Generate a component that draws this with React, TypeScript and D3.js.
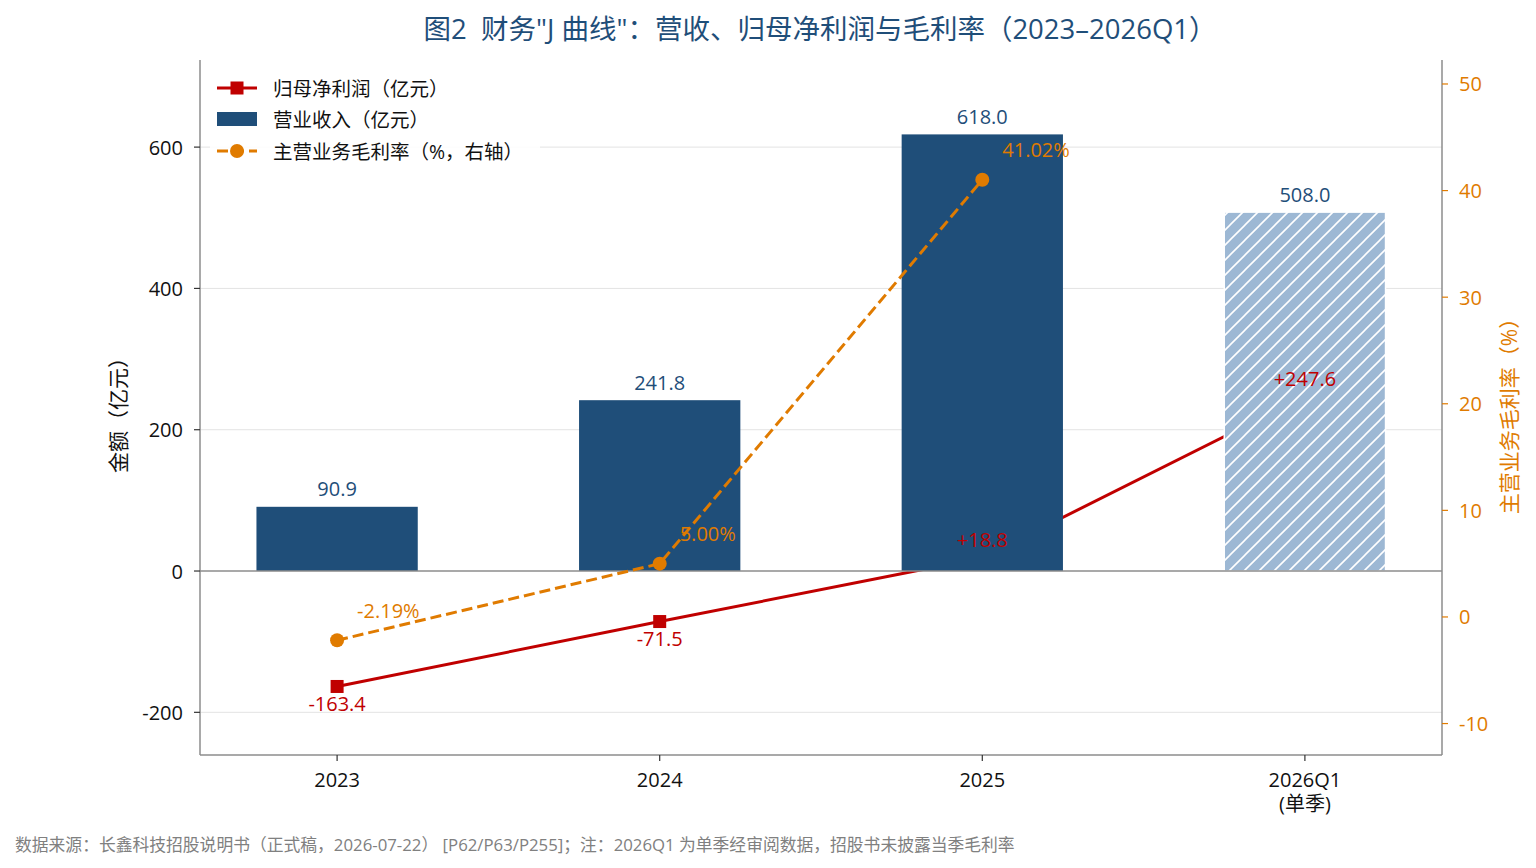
// Dependencies
import React from "react";
import * as d3 from "d3";

// Data
const periods = ["2023", "2024", "2025", "2026Q1"];
const periodLabels = [["2023"], ["2024"], ["2025"], ["2026Q1", "(单季)"]];
const revenue = [90.9, 241.8, 618.0, 508.0];
const netProfit = [-163.4, -71.5, 18.8, 247.6];
const grossMargin = [-2.19, 5.0, 41.02]; // 2026Q1 not disclosed
const leftTicks = [-200, 0, 200, 400, 600];
const rightTicks = [-10, 0, 10, 20, 30, 40, 50];

const FONT = "'Open Sans', 'Noto Sans CJK SC', sans-serif";
const BLUE = "#1f4e79";
const LIGHT_BLUE = "#9db8d4";
const RED = "#c00000";
const ORANGE = "#e07b00";

const App: React.FC = () => {
  const width = 1536;
  const height = 868;
  const margin = { top: 60, right: 94, bottom: 113, left: 200 };
  const x0 = margin.left;
  const x1 = width - margin.right;
  const y0 = height - margin.bottom;
  const y1 = margin.top;

  // Scales
  const xScale = d3.scaleLinear().domain([-0.425, 3.425]).range([x0, x1]);
  const yLeft = d3.scaleLinear().domain([-260.4, 723.3]).range([y0, y1]);
  const yRight = d3.scaleLinear().domain([-12.95, 52.25]).range([y0, y1]);
  const barW = xScale(0.5) - xScale(0);

  const profitLine = d3
    .line<number>()
    .x((_, i) => xScale(i))
    .y((d) => yLeft(d));
  const marginLine = d3
    .line<number>()
    .x((_, i) => xScale(i))
    .y((d) => yRight(d));

  const fmtSigned = (v: number) => (v > 0 ? "+" : "") + v.toFixed(1);

  return (
    <svg
      width={width}
      height={height}
      style={{ position: "absolute", left: 0, top: 0, background: "#fff" }}
      fontFamily={FONT}
    >
      <defs>
        <pattern
          id="hatch"
          patternUnits="userSpaceOnUse"
          width={15}
          height={15}
        >
          <rect width={15} height={15} fill={LIGHT_BLUE} />
          <path
            d="M-3.75,3.75 l7.5,-7.5 M0,15 l15,-15 M11.25,18.75 l7.5,-7.5"
            stroke="#fff"
            strokeWidth={1.6}
          />
        </pattern>
        <clipPath id="plot">
          <rect x={x0} y={y1} width={x1 - x0} height={y0 - y1} />
        </clipPath>
      </defs>

      {/* Title */}
      <text
        x={820}
        y={28}
        textAnchor="middle"
        dominantBaseline="central"
        fontSize={27.5}
        fill={BLUE}
        style={{ whiteSpace: "pre" }}
      >
        {'图2  财务"J 曲线"：营收、归母净利润与毛利率（2023–2026Q1）'}
      </text>

      {/* Gridlines */}
      <g>
        {leftTicks
          .filter((t) => t !== 0)
          .map((t) => (
            <line
              key={t}
              x1={x0}
              x2={x1}
              y1={yLeft(t)}
              y2={yLeft(t)}
              stroke="#e3e3e3"
              strokeWidth={1}
            />
          ))}
      </g>

      <g clipPath="url(#plot)">
        {/* Net profit line (under bars) */}
        <path
          d={profitLine(netProfit) || ""}
          fill="none"
          stroke={RED}
          strokeWidth={3}
        />
        {netProfit.map((v, i) => (
          <rect
            key={i}
            x={xScale(i) - 6.5}
            y={yLeft(v) - 6.5}
            width={13}
            height={13}
            fill={RED}
          />
        ))}

        {/* Revenue bars */}
        {revenue.map((v, i) => (
          <rect
            key={periods[i]}
            x={xScale(i) - barW / 2}
            y={yLeft(v)}
            width={barW}
            height={yLeft(0) - yLeft(v)}
            fill={i === 3 ? "url(#hatch)" : BLUE}
            stroke={i === 3 ? "#fff" : "none"}
            strokeWidth={1.5}
          />
        ))}

        {/* Zero line */}
        <line
          x1={x0}
          x2={x1}
          y1={yLeft(0)}
          y2={yLeft(0)}
          stroke="#8c8c8c"
          strokeWidth={1.5}
        />

        {/* Gross margin line */}
        <path
          d={marginLine(grossMargin) || ""}
          fill="none"
          stroke={ORANGE}
          strokeWidth={3}
          strokeDasharray="11,5"
        />
        {grossMargin.map((v, i) => (
          <circle key={i} cx={xScale(i)} cy={yRight(v)} r={7} fill={ORANGE} />
        ))}
      </g>

      {/* Labels */}
      <g fontSize={20}>
        {revenue.map((v, i) => (
          <text
            key={i}
            x={xScale(i)}
            y={yLeft(v) - 18}
            textAnchor="middle"
            dominantBaseline="central"
            fill={BLUE}
          >
            {v.toFixed(1)}
          </text>
        ))}
        {netProfit.map((v, i) => (
          <text
            key={i}
            x={xScale(i)}
            y={yLeft(v) + (v < 0 ? 17 : -18)}
            textAnchor="middle"
            dominantBaseline="central"
            fill={RED}
          >
            {fmtSigned(v)}
          </text>
        ))}
        {grossMargin.map((v, i) => (
          <text
            key={i}
            x={xScale(i) + 20}
            y={yRight(v) - 30}
            dominantBaseline="central"
            fill={ORANGE}
          >
            {v.toFixed(2) + "%"}
          </text>
        ))}
      </g>

      {/* Spines */}
      <line x1={x0} x2={x0} y1={y1} y2={y0} stroke="#8c8c8c" strokeWidth={1.5} />
      <line x1={x1} x2={x1} y1={y1} y2={y0} stroke="#8c8c8c" strokeWidth={1.5} />
      <line x1={x0} x2={x1} y1={y0} y2={y0} stroke="#8c8c8c" strokeWidth={1.5} />

      {/* Left axis */}
      <g fontSize={20}>
        {leftTicks.map((t) => (
          <g key={t} transform={`translate(${x0},${yLeft(t)})`}>
            <line x1={-6} x2={0} stroke="#333" strokeWidth={1.2} />
            <text
              x={-17}
              textAnchor="end"
              dominantBaseline="central"
              fill="#111"
            >
              {t}
            </text>
          </g>
        ))}
      </g>
      <text
        transform={`translate(118,410) rotate(-90)`}
        textAnchor="middle"
        dominantBaseline="central"
        fontSize={21}
        fill="#111"
      >
        金额（亿元）
      </text>

      {/* Right axis */}
      <g fontSize={20}>
        {rightTicks.map((t) => (
          <g key={t} transform={`translate(${x1},${yRight(t)})`}>
            <line x1={0} x2={6} stroke={ORANGE} strokeWidth={1.2} />
            <text x={17} dominantBaseline="central" fill={ORANGE}>
              {t}
            </text>
          </g>
        ))}
      </g>
      <text
        transform={`translate(1509,411) rotate(-90)`}
        textAnchor="middle"
        dominantBaseline="central"
        fontSize={21}
        fill={ORANGE}
      >
        主营业务毛利率（%）
      </text>

      {/* Bottom axis */}
      <g fontSize={20}>
        {periodLabels.map((lines, i) => (
          <g key={i} transform={`translate(${xScale(i)},${y0})`}>
            <line y1={0} y2={6} stroke="#333" strokeWidth={1.2} />
            {lines.map((s, j) => (
              <text
                key={j}
                y={24 + j * 24}
                textAnchor="middle"
                dominantBaseline="central"
                fill="#111"
              >
                {s}
              </text>
            ))}
          </g>
        ))}
      </g>

      {/* Legend */}
      <g fontSize={19.5}>
        <rect x={210} y={70} width={330} height={98} fill="#fff" opacity={0.85} />
        <line x1={217} x2={257} y1={88} y2={88} stroke={RED} strokeWidth={3} />
        <rect x={230.5} y={81.5} width={13} height={13} fill={RED} />
        <text x={273} y={88} dominantBaseline="central" fill="#111">
          归母净利润（亿元）
        </text>
        <rect x={217} y={112} width={40} height={14} fill={BLUE} />
        <text x={273} y={119} dominantBaseline="central" fill="#111">
          营业收入（亿元）
        </text>
        <line
          x1={217}
          x2={257}
          y1={151}
          y2={151}
          stroke={ORANGE}
          strokeWidth={3}
          strokeDasharray="11,5"
        />
        <circle cx={237} cy={151} r={7} fill={ORANGE} />
        <text x={273} y={151} dominantBaseline="central" fill="#111">
          主营业务毛利率（%，右轴）
        </text>
      </g>

      {/* Footer */}
      <text
        x={15}
        y={844}
        dominantBaseline="central"
        fontSize={16.8}
        fill="#808080"
        style={{ whiteSpace: "pre" }}
      >
        {"数据来源：长鑫科技招股说明书（正式稿，2026-07-22） [P62/P63/P255]；注：2026Q1 为单季经审阅数据，招股书未披露当季毛利率"}
      </text>
    </svg>
  );
};

export default App;
